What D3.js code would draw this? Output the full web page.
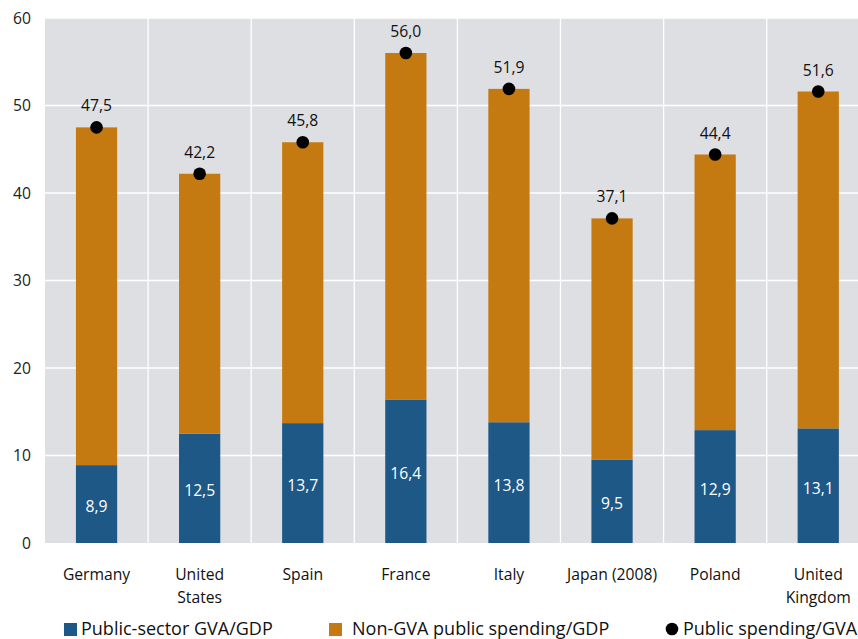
<!DOCTYPE html>
<html>
<head>
<meta charset="utf-8">
<script src="https://cdn.jsdelivr.net/npm/d3@7"></script>
<style>
  html, body { margin: 0; padding: 0; background: #fff; }
  svg { display: block; font-family: "Open Sans", sans-serif; }
</style>
</head>
<body>
<svg id="chart" width="858" height="639"></svg>
<script>
// Countries and their shares (% of GDP)
const countries = [["Germany"], ["United", "States"], ["Spain"], ["France"], ["Italy"],
                   ["Japan (2008)"], ["Poland"], ["United", "Kingdom"]];
const gvaShare = [8.9, 12.5, 13.7, 16.4, 13.8, 9.5, 12.9, 13.1];       // Public-sector GVA/GDP
const totalSpending = [47.5, 42.2, 45.8, 56.0, 51.9, 37.1, 44.4, 51.6]; // Public spending/GVA
const nonGvaShare = totalSpending.map((t, i) => +(t - gvaShare[i]).toFixed(1)); // Non-GVA public spending/GDP
const yTicks = [0, 10, 20, 30, 40, 50, 60];
const legendItems = ["Public-sector GVA/GDP", "Non-GVA public spending/GDP", "Public spending/GVA"];

const fmt = v => d3.format(".1f")(v).replace(".", ",");

const svg = d3.select("#chart");
const FS = 15.7;
const LEG_FS = 18;
const margin = { left: 45, top: 18, bottom: 96 };
const bandW = 103.1;
const plotW = bandW * countries.length;
const plotH = 639 - margin.top - margin.bottom;

const COL_BLUE = "#1e5886";
const COL_ORANGE = "#c47a11";
const COL_BG = "#dedfe3";

const x = d3.scaleBand().domain(d3.range(countries.length)).range([margin.left, margin.left + plotW]).padding(0);
const barW = x.bandwidth() * 0.4;
const cx = i => x(i) + x.bandwidth() / 2;
const y = d3.scaleLinear().domain([0, 60]).range([margin.top + plotH, margin.top]);

// plot background
svg.append("rect").attr("x", margin.left).attr("y", y(60))
  .attr("width", plotW).attr("height", y(0) - y(60)).attr("fill", COL_BG);

// horizontal gridlines
svg.append("g").selectAll("line").data(yTicks.slice(1)).join("line")
  .attr("x1", margin.left).attr("x2", margin.left + plotW)
  .attr("y1", d => y(d)).attr("y2", d => y(d))
  .attr("stroke", "#fff").attr("stroke-width", 1.3);

// vertical separators between categories
svg.append("g").selectAll("line").data(d3.range(1, countries.length)).join("line")
  .attr("x1", d => x(d)).attr("x2", d => x(d))
  .attr("y1", y(60)).attr("y2", y(0))
  .attr("stroke", "#fff").attr("stroke-width", 1.3);

// y axis labels
const yAxis = d3.axisLeft(y).tickValues(yTicks).tickSize(0).tickPadding(14).tickFormat(d3.format("d"));
const ya = svg.append("g").attr("transform", `translate(${margin.left},0)`).call(yAxis);
ya.select(".domain").remove();
ya.selectAll("text").attr("font-size", FS).attr("fill", "#222").style("font-family", "'Open Sans', sans-serif");

// stacked bars
const bars = svg.append("g");
bars.selectAll("rect.gva").data(gvaShare).join("rect")
  .attr("class", "gva")
  .attr("x", (d, i) => cx(i) - barW / 2).attr("width", barW)
  .attr("y", d => y(d)).attr("height", d => y(0) - y(d))
  .attr("fill", COL_BLUE);
bars.selectAll("rect.nongva").data(nonGvaShare).join("rect")
  .attr("class", "nongva")
  .attr("x", (d, i) => cx(i) - barW / 2).attr("width", barW)
  .attr("y", (d, i) => y(gvaShare[i] + d)).attr("height", (d, i) => y(gvaShare[i]) - y(gvaShare[i] + d))
  .attr("fill", COL_ORANGE);

// labels inside blue segments
svg.append("g").selectAll("text").data(gvaShare).join("text")
  .attr("x", (d, i) => cx(i))
  .attr("y", d => (y(0) + y(d)) / 2 + 8)
  .attr("text-anchor", "middle").attr("font-size", FS).attr("fill", "#fff")
  .text(fmt);

// dots for total spending
svg.append("g").selectAll("circle").data(totalSpending).join("circle")
  .attr("cx", (d, i) => cx(i))
  .attr("cy", d => y(d)).attr("r", 6.3).attr("fill", "#000");

svg.append("g").selectAll("text").data(totalSpending).join("text")
  .attr("x", (d, i) => cx(i))
  .attr("y", d => y(d) - 16)
  .attr("text-anchor", "middle").attr("font-size", FS).attr("fill", "#111")
  .text(fmt);

// category labels
const cat = svg.append("g").selectAll("text").data(countries).join("text")
  .attr("text-anchor", "middle").attr("font-size", FS).attr("fill", "#111")
  .attr("transform", (d, i) => `translate(${cx(i)},${y(0) + 37})`);
cat.selectAll("tspan").data(d => d).join("tspan")
  .attr("x", 0).attr("dy", (d, j) => j === 0 ? 0 : 23).text(d => d);

// legend
const legBase = 634.5;
const leg = svg.append("g");
leg.append("rect").attr("x", 64).attr("y", 623).attr("width", 13).attr("height", 13).attr("fill", COL_BLUE);
leg.append("text").attr("x", 81).attr("y", legBase).attr("font-size", LEG_FS).attr("fill", "#111").text(legendItems[0]);
leg.append("rect").attr("x", 329).attr("y", 623).attr("width", 13).attr("height", 13).attr("fill", COL_ORANGE);
leg.append("text").attr("x", 352).attr("y", legBase).attr("font-size", LEG_FS).attr("fill", "#111").text(legendItems[1]);
leg.append("circle").attr("cx", 672).attr("cy", 629).attr("r", 6.3).attr("fill", "#000");
leg.append("text").attr("x", 683).attr("y", legBase).attr("font-size", LEG_FS).attr("fill", "#111").text(legendItems[2]);
</script>
</body>
</html>
